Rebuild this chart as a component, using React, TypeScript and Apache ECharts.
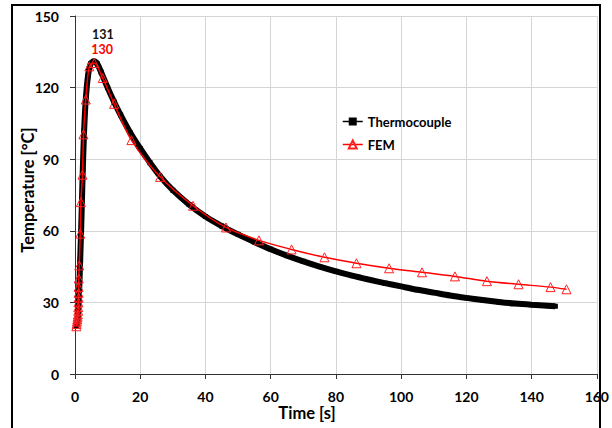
import React, { useEffect, useRef } from "react";
import * as echarts from "echarts";

const thermoTime = [0.4, 0.7, 1.0, 1.3, 1.6, 2.0, 2.4, 2.8, 3.3, 4.0, 4.8, 5.8, 6.8, 8, 10, 12, 14, 17, 20, 23, 26, 30, 35, 40, 45, 50, 55, 60, 65, 70, 75, 80, 85, 90, 95, 100, 105, 110, 115, 120, 125, 130, 135, 140, 145, 147.3];
const thermoTemp = [20, 21, 26, 36, 48, 66, 86, 102, 115, 125, 130, 131, 130, 126.5, 120, 114, 108.5, 101, 94.5, 88.5, 83, 77, 71, 66, 62, 58.5, 55.3, 52.3, 49.6, 47.2, 45, 43, 41.2, 39.6, 38.1, 36.7, 35.3, 34.1, 32.9, 31.9, 31, 30.2, 29.5, 29, 28.6, 28.4];

const femTime = [0.4, 0.5, 0.6, 0.7, 0.8, 0.9, 1.0, 1.0, 1.05, 1.1, 1.1, 1.1, 1.15, 1.3, 1.6, 1.8, 2.3, 2.6, 3.3, 4.4, 5.9, 8.5, 12, 17.3, 26.1, 36.2, 46.3, 56.4, 66.4, 76.5, 86.3, 96.3, 106.4, 116.5, 126.3, 136, 145.8, 150.7];
const femTemp = [20, 21, 22, 23, 24, 25, 26.5, 28, 30, 32, 34, 36.5, 40, 45.5, 58.8, 72, 83.5, 100.4, 115, 128.9, 130.3, 124, 113.2, 98, 82.6, 70.5, 61.4, 56, 52.2, 48.9, 46.4, 44.3, 42.6, 40.9, 38.9, 37.6, 36.4, 35.5];

const xTicks = { min: 0, max: 160, interval: 20 };
const yTicks = { min: 0, max: 150, interval: 30 };

const FONT = "Lato, 'Open Sans', sans-serif";

function peakIndex(arr: number[]) {
  let idx = 0;
  arr.forEach((v, i) => { if (v > arr[idx]) idx = i; });
  return idx;
}

export default function App() {
  const ref = useRef<HTMLDivElement>(null);
  useEffect(() => {
    document.body.style.margin = "0";
    const chart = echarts.init(ref.current!, null, { renderer: "svg" });
    const tp = peakIndex(thermoTemp);
    const fp = peakIndex(femTemp);
    const thermoData = thermoTime.map((t, i) =>
      i === tp
        ? { value: [t, thermoTemp[i]], label: { show: true, formatter: String(Math.round(thermoTemp[i])), position: "inside", offset: [9, -27], color: "#111", fontWeight: "bold", fontSize: 12.5, fontFamily: FONT } }
        : [t, thermoTemp[i]]
    );
    const femData = femTime.map((t, i) =>
      i === fp
        ? { value: [t, femTemp[i]], label: { show: true, formatter: String(Math.round(femTemp[i])), position: "inside", offset: [8, -14], color: "#ff0000", fontWeight: "bold", fontSize: 12.5, fontFamily: FONT } }
        : [t, femTemp[i]]
    );
    chart.setOption({
      animation: false,
      backgroundColor: "#fff",
      grid: { left: 75, top: 16, right: 15, bottom: 54 },
      legend: {
        left: 337,
        top: 110,
        orient: "vertical",
        itemWidth: 20,
        itemHeight: 10,
        itemGap: 10,
        textStyle: { fontFamily: FONT, fontWeight: "bold", fontSize: 13, color: "#000" },
        lineStyle: { width: 1.5 },
        data: ["Thermocouple", "FEM"],
      },
      xAxis: {
        type: "value",
        ...xTicks,
        axisLine: { show: true, lineStyle: { color: "#333", width: 1 } },
        axisTick: { show: true, length: 5, lineStyle: { color: "#333" } },
        splitLine: { show: true, lineStyle: { color: "#d4d4d4", width: 1 } },
        axisLabel: { margin: 15, fontFamily: FONT, fontWeight: "bold", fontSize: 14, color: "#000" },
      },
      yAxis: {
        type: "value",
        ...yTicks,
        axisLine: { show: true, lineStyle: { color: "#333", width: 1 } },
        axisTick: { show: true, length: 5, lineStyle: { color: "#333" } },
        splitLine: { show: true, lineStyle: { color: "#d4d4d4", width: 1 } },
        axisLabel: { margin: 16, fontFamily: FONT, fontWeight: "bold", fontSize: 14, color: "#000" },
      },
      graphic: [
        { type: "rect", shape: { x: 12, y: 5, width: 588, height: 440 }, style: { fill: "none", stroke: "#000", lineWidth: 2 }, silent: true },
        { type: "text", x: 28, y: 190, rotation: Math.PI / 2, style: { text: "Temperature [°C]", fontFamily: FONT, fontWeight: "bold", fontSize: 16.5, fill: "#000", textAlign: "center", textVerticalAlign: "middle" } },
        { type: "text", x: 307, y: 413, style: { text: "Time [s]", fontFamily: FONT, fontWeight: "bold", fontSize: 16.5, fill: "#000", textAlign: "center", textVerticalAlign: "middle" } },
      ],
      series: [
        {
          name: "Thermocouple",
          type: "line",
          data: thermoData,
          smooth: 0.3,
          symbol: "rect",
          symbolSize: 5,
          showSymbol: true,
          color: "#000",
          itemStyle: { color: "#000" },
          lineStyle: { color: "#000", width: 6 },
          z: 2,
        },
        {
          name: "FEM",
          type: "line",
          data: femData,
          smooth: 0.3,
          symbol: "triangle",
          symbolSize: 9,
          showSymbol: true,
          color: "#ff0000",
          itemStyle: { color: "rgba(255,255,255,0)", borderColor: "#ff2020", borderWidth: 1 },
          lineStyle: { color: "#ff0000", width: 1.5 },
          z: 3,
        },
      ],
    });
    return () => chart.dispose();
  }, []);
  return <div ref={ref} style={{ width: 612, height: 428 }} />;
}
